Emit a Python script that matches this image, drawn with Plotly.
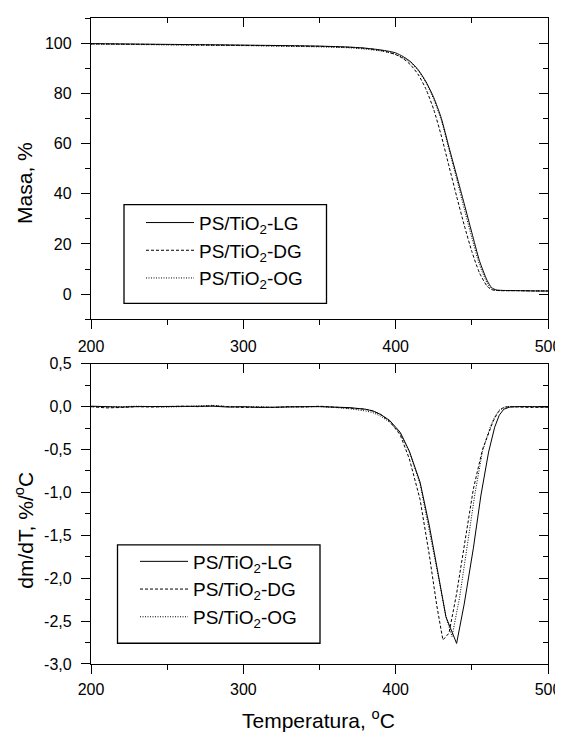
import plotly.graph_objects as go

# ---------------- data ----------------
series_names = ["PS/TiO<sub>2</sub>-LG", "PS/TiO<sub>2</sub>-DG", "PS/TiO<sub>2</sub>-OG"]

# TGA (top panel)
T_tga = [200, 250, 300, 350, 370, 380, 390, 395, 400, 405, 410, 415, 420, 425, 430,
         435, 440, 445, 450, 455, 460, 463, 466, 470, 480, 490, 505]
mass_LG = [99.8, 99.5, 99.2, 98.8, 98.4, 98.0, 97.3, 96.8, 96.1, 94.6, 92.5, 89.2, 84.5, 78.3, 70.0,
           58.5, 47.3, 36.0, 24.5, 13.3, 5.5, 2.6, 1.7, 1.5, 1.4, 1.3, 1.2]
mass_DG = [99.7, 99.4, 99.1, 98.7, 98.3, 97.9, 97.1, 96.4, 95.4, 93.8, 91.2, 87.3, 81.5, 73.5, 63.0,
           51.0, 39.0, 27.5, 17.0, 8.5, 3.2, 1.8, 1.5, 1.4, 1.4, 1.3, 1.3]
mass_OG = [99.6, 99.3, 99.0, 98.5, 98.1, 97.6, 96.9, 96.3, 95.5, 94.1, 92.1, 88.9, 84.1, 77.6, 69.2,
           57.6, 46.0, 34.0, 22.5, 11.8, 4.5, 2.0, 1.5, 1.4, 1.4, 1.3, 1.3]

# DTG (bottom panel)
T_base = [200, 210, 220, 230, 240, 250, 260, 270, 280, 290, 300, 310, 320, 330, 340, 350, 360, 370]

T_dtg_LG = T_base + [380, 385, 390, 396, 403, 409, 416, 422, 428, 433, 440, 445, 451, 456, 461, 465,
                     468, 471, 475, 480, 490, 500]
dtg_LG = [0.005, 0.0, -0.005, 0.0, 0.0, 0.005, 0.0, 0.0, 0.005, -0.005, 0.0, -0.01, -0.005, -0.005,
          0.0, 0.0, -0.005, -0.012,
          -0.03, -0.05, -0.09, -0.16, -0.30, -0.52, -0.88, -1.38, -1.96, -2.45, -2.76, -2.30, -1.65,
          -1.03, -0.53, -0.24, -0.10, -0.03, -0.005, 0.0, 0.0, -0.005]

T_dtg_DG = T_base + [380, 385, 390, 396, 403, 409, 416, 422, 427, 431, 435, 440, 445, 451, 457, 461,
                     464, 467, 470, 474, 480, 490, 500]
dtg_DG = [0.0, -0.015, -0.01, 0.0, -0.005, 0.0, 0.005, 0.0, 0.01, 0.0, -0.01, -0.005, -0.01, 0.0,
          -0.005, 0.005, -0.005, -0.012,
          -0.03, -0.05, -0.09, -0.17, -0.33, -0.61, -1.08, -1.72, -2.32, -2.72, -2.64, -2.18, -1.60,
          -0.96, -0.50, -0.30, -0.17, -0.07, -0.02, 0.0, -0.005, -0.01, -0.005]

T_dtg_OG = T_base + [380, 385, 390, 396, 403, 409, 416, 422, 428, 433, 437, 442, 447, 452, 457, 462,
                     465, 468, 472, 480, 490, 500]
dtg_OG = [0.0, -0.005, 0.0, 0.005, 0.0, -0.005, 0.0, 0.005, 0.015, 0.0, -0.005, 0.0, -0.01, -0.005,
          0.0, 0.0, -0.01, -0.025,
          -0.05, -0.07, -0.11, -0.18, -0.31, -0.53, -0.90, -1.42, -1.98, -2.45, -2.68, -2.22, -1.62,
          -1.02, -0.52, -0.24, -0.12, -0.04, 0.0, 0.0, 0.005, 0.0]

x_range = [200, 500]
mass_range = [-10, 110]
dtg_range = [-3.0, 0.5]
dtg_tickvals = [-3.0, -2.5, -2.0, -1.5, -1.0, -0.5, 0.0, 0.5]
dtg_ticktext = ["-3,0", "-2,5", "-2,0", "-1,5", "-1,0", "-0,5", "0,0", "0,5"]

# ---------------- figure ----------------
FONT = "Arial, Liberation Sans, sans-serif"
OFF = 8                      # page body margin around the plot div
PAGE_W, PAGE_H = 563, 740
# plot-area edges in page pixels
PL, PR, PT, PB = 91, 548, 10, 664
W, H = PAGE_W - OFF, PAGE_H - 2 * OFF
ML, MT = PL - OFF, PT - OFF
MR, MB = W - (PR - OFF), H - (PB - OFF)
PW, PH = PR - PL, PB - PT


def px_x(px):
    return (px - PL) / PW


def px_y(py):
    return (PB - py) / PH


top_dom = [px_y(315), 1.0]
bot_dom = [0.0, px_y(360)]

dash_DG = "3px,2px"
dash_OG = "1px,1.5px"

fig = go.Figure()

# top panel
fig.add_trace(go.Scatter(x=T_tga, y=mass_LG, name=series_names[0], mode="lines",
                         line=dict(color="black", width=1, shape="spline", smoothing=0.6),
                         xaxis="x", yaxis="y", legend="legend"))
fig.add_trace(go.Scatter(x=T_tga, y=mass_DG, name=series_names[1], mode="lines",
                         line=dict(color="black", width=1, dash=dash_DG, shape="spline", smoothing=0.6),
                         xaxis="x", yaxis="y", legend="legend"))
fig.add_trace(go.Scatter(x=T_tga, y=mass_OG, name=series_names[2], mode="lines",
                         line=dict(color="black", width=1, dash=dash_OG, shape="spline", smoothing=0.6),
                         xaxis="x3", yaxis="y3", legend="legend"))
# bottom panel
fig.add_trace(go.Scatter(x=T_dtg_LG, y=dtg_LG, name=series_names[0], mode="lines",
                         line=dict(color="black", width=1),
                         xaxis="x2", yaxis="y2", legend="legend2"))
fig.add_trace(go.Scatter(x=T_dtg_DG, y=dtg_DG, name=series_names[1], mode="lines",
                         line=dict(color="black", width=1, dash=dash_DG),
                         xaxis="x2", yaxis="y2", legend="legend2"))
fig.add_trace(go.Scatter(x=T_dtg_OG, y=dtg_OG, name=series_names[2], mode="lines",
                         line=dict(color="black", width=1, dash=dash_OG),
                         xaxis="x4", yaxis="y4", legend="legend2"))

tickfont = dict(family=FONT, size=16, color="black")
LW = 1.3


def main_axis(**kw):
    d = dict(showline=True, linecolor="black", linewidth=LW, mirror=True,
             ticks="outside", ticklen=9, tickwidth=LW, tickcolor="black",
             showgrid=False, zeroline=False, tickfont=tickfont)
    d.update(kw)
    return d


def mirror_axis(**kw):
    d = dict(showline=False, ticks="inside", ticklen=9, tickwidth=LW, tickcolor="black",
             showgrid=False, zeroline=False, showticklabels=False)
    d.update(kw)
    return d


x_minor_out = dict(ticks="outside", ticklen=5, tickwidth=LW, tickcolor="black", dtick=50, tick0=200)
x_minor_in = dict(ticks="inside", ticklen=5, tickwidth=LW, tickcolor="black", dtick=50, tick0=200)
m_minor_out = dict(ticks="outside", ticklen=5, tickwidth=LW, tickcolor="black", dtick=10, tick0=0)
m_minor_in = dict(ticks="inside", ticklen=5, tickwidth=LW, tickcolor="black", dtick=10, tick0=0)
d_minor_out = dict(ticks="outside", ticklen=5, tickwidth=LW, tickcolor="black", dtick=0.25, tick0=0)
d_minor_in = dict(ticks="inside", ticklen=5, tickwidth=LW, tickcolor="black", dtick=0.25, tick0=0)

legend_font = dict(family=FONT, size=19, color="black")

fig.update_layout(
    width=W, height=H,
    margin=dict(l=ML, r=MR, t=MT, b=MB),
    paper_bgcolor="white", plot_bgcolor="white",
    font=dict(family=FONT, color="black"),
    xaxis=main_axis(domain=[0, 1], anchor="y", range=x_range, dtick=100, tick0=200,
                    minor=x_minor_out, ticklabelstandoff=3, ticklabeloverflow="allow"),
    yaxis=main_axis(domain=top_dom, anchor="x", range=mass_range, dtick=20, tick0=0,
                    minor=m_minor_out, ticklabelstandoff=6),
    xaxis2=main_axis(domain=[0, 1], anchor="y2", range=x_range, dtick=100, tick0=200,
                     minor=x_minor_out, ticklabelstandoff=2, ticklabeloverflow="allow"),
    yaxis2=main_axis(domain=bot_dom, anchor="x2", range=dtg_range, tickmode="array",
                     tickvals=dtg_tickvals, ticktext=dtg_ticktext, minor=d_minor_out,
                     ticklabelstandoff=6),
    xaxis3=mirror_axis(overlaying="x", anchor="y3", side="top", range=x_range, dtick=100, tick0=200,
                       minor=x_minor_in),
    yaxis3=mirror_axis(overlaying="y", anchor="x3", side="right", range=mass_range, dtick=20, tick0=0,
                       minor=m_minor_in),
    xaxis4=mirror_axis(overlaying="x2", anchor="y4", side="top", range=x_range, dtick=100, tick0=200,
                       minor=x_minor_in),
    yaxis4=mirror_axis(overlaying="y2", anchor="x4", side="right", range=dtg_range, dtick=0.5, tick0=0,
                       minor=d_minor_in),
    legend=dict(x=px_x(141), y=px_y(198), xanchor="left", yanchor="top",
                bgcolor="rgba(0,0,0,0)", borderwidth=0, itemwidth=48,
                font=legend_font, tracegroupgap=0),
    legend2=dict(x=px_x(135), y=px_y(541), xanchor="left", yanchor="top",
                 bgcolor="rgba(0,0,0,0)", borderwidth=0, itemwidth=48,
                 font=legend_font, tracegroupgap=0),
    showlegend=True,
)

# legend frames
fig.add_shape(type="rect", xref="paper", yref="paper",
              x0=px_x(124), x1=px_x(326.5), y0=px_y(299), y1=px_y(199),
              line=dict(color="black", width=LW), fillcolor="white", layer="below")
fig.add_shape(type="rect", xref="paper", yref="paper",
              x0=px_x(117.5), x1=px_x(320), y0=px_y(643), y1=px_y(543.5),
              line=dict(color="black", width=LW), fillcolor="white", layer="below")

title_font = dict(family=FONT, size=21, color="black")
fig.add_annotation(text="Masa, %", xref="paper", yref="paper", x=px_x(25), y=px_y(177),
                   xanchor="center", yanchor="middle", textangle=-90, showarrow=False, font=title_font)
fig.add_annotation(text="dm/dT, %/<sup>o</sup>C", xref="paper", yref="paper", x=px_x(24), y=px_y(529),
                   xanchor="center", yanchor="middle", textangle=-90, showarrow=False, font=title_font)
fig.add_annotation(text="Temperatura, <sup>o</sup>C", xref="paper", yref="paper", x=px_x(318.5),
                   y=px_y(720), xanchor="center", yanchor="middle", showarrow=False, font=title_font)

fig.write_html("out.html")
